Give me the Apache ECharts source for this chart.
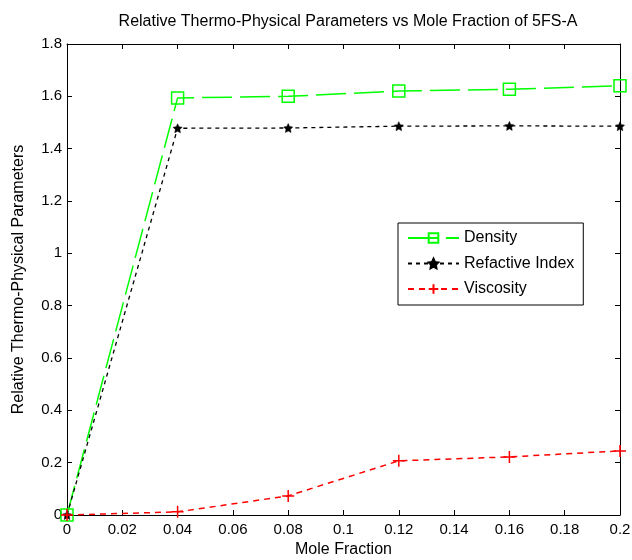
<!DOCTYPE html>
<html><head><meta charset="utf-8">
<script src="https://cdn.jsdelivr.net/npm/echarts@6/dist/echarts.min.js"></script>
<style>html,body{margin:0;padding:0;background:#fff}#c{width:632px;height:560px}</style>
</head><body><div id="c"></div>
<script>
const moleFraction = [0, 0.04, 0.08, 0.12, 0.16, 0.2];
const density = [0, 1.594, 1.600, 1.620, 1.627, 1.640];
const refractiveIndex = [0, 1.478, 1.479, 1.486, 1.487, 1.486];
const viscosity = [0, 0.012, 0.073, 0.207, 0.222, 0.245];
const seriesNames = ['Density', 'Refactive Index', 'Viscosity'];

const pair = arr => moleFraction.map((x, i) => [x, arr[i]]);
const font = 'Liberation Sans, Arial, sans-serif';
const fmt = v => String(+v.toFixed(2));
const starPath = 'path://M0,-10 L2.9,-4 L9.5,-3.1 L4.8,1.5 L5.9,8.1 L0,5 L-5.9,8.1 L-4.8,1.5 L-9.5,-3.1 L-2.9,-4 Z';
const plusPath = 'path://M0,-10 L0,10 M-10,0 L10,0';

const chart = echarts.init(document.getElementById('c'));
chart.setOption({
  animation: false,
  backgroundColor: '#fff',
  title: {
    text: 'Relative Thermo-Physical Parameters vs Mole Fraction of 5FS-A',
    left: 343, top: 9, textAlign: 'center',
    textStyle: {fontFamily: font, fontSize: 16, fontWeight: 'normal', color: '#000'}
  },
  grid: {left: 67, right: 12, top: 44, bottom: 45, show: false, outerBoundsMode: 'none', containLabel: false},
  legend: {
    orient: 'vertical', left: 398, top: 223,
    backgroundColor: '#fff', borderColor: '#000', borderWidth: 1,
    padding: [6, 9, 7, 9], itemGap: 7.5, itemWidth: 51, itemHeight: 12,
    textStyle: {fontFamily: font, fontSize: 16, lineHeight: 18, color: '#000'},
    data: seriesNames
  },
  xAxis: [{
    type: 'value', min: 0, max: 0.2, interval: 0.02,
    name: 'Mole Fraction', nameLocation: 'middle', nameGap: 27,
    nameTextStyle: {fontFamily: font, fontSize: 16, color: '#000'},
    axisLine: {show: true, lineStyle: {color: '#000', width: 1}},
    axisTick: {show: true, inside: true, length: 5, lineStyle: {color: '#000'}},
    axisLabel: {fontFamily: font, fontSize: 15, color: '#000', formatter: fmt, margin: 7},
    splitLine: {show: false}
  }, {
    type: 'value', min: 0, max: 0.2, interval: 0.02, position: 'top',
    axisLine: {show: true, onZero: false, lineStyle: {color: '#000', width: 1}},
    axisTick: {show: true, inside: true, length: 5, lineStyle: {color: '#000'}},
    axisLabel: {show: false}, splitLine: {show: false}
  }],
  yAxis: [{
    type: 'value', min: 0, max: 1.8, interval: 0.2,
    name: 'Relative Thermo-Physical Parameters', nameLocation: 'middle', nameGap: 40,
    nameTextStyle: {fontFamily: font, fontSize: 16, color: '#000'},
    axisLine: {show: true, lineStyle: {color: '#000', width: 1}},
    axisTick: {show: true, inside: true, length: 5, lineStyle: {color: '#000'}},
    axisLabel: {fontFamily: font, fontSize: 15, color: '#000', formatter: fmt, margin: 5},
    splitLine: {show: false}
  }, {
    type: 'value', min: 0, max: 1.8, interval: 0.2, position: 'right',
    axisLine: {show: true, onZero: false, lineStyle: {color: '#000', width: 1}},
    axisTick: {show: true, inside: true, length: 5, lineStyle: {color: '#000'}},
    axisLabel: {show: false}, splitLine: {show: false}
  }],
  series: [{
    name: seriesNames[0], type: 'line', data: pair(density),
    symbol: 'rect', symbolSize: 12,
    lineStyle: {color: '#00ff00', width: 1.5, type: [30, 8]},
    itemStyle: {color: 'rgba(255,255,255,0)', borderColor: '#00ff00', borderWidth: 1.5},
    color: '#00ff00'
  }, {
    name: seriesNames[1], type: 'line', data: pair(refractiveIndex),
    symbol: starPath, symbolSize: 9,
    lineStyle: {color: '#000', width: 1.3, type: [4, 4]},
    itemStyle: {color: '#000', borderColor: '#000', borderWidth: 0.5},
    color: '#000'
  }, {
    name: seriesNames[2], type: 'line', data: pair(viscosity),
    symbol: plusPath, symbolSize: 12,
    lineStyle: {color: '#ff0000', width: 1.5, type: [6, 5]},
    itemStyle: {color: 'rgba(255,255,255,0)', borderColor: '#ff0000', borderWidth: 1.5},
    color: '#ff0000'
  }]
});
</script></body></html>
